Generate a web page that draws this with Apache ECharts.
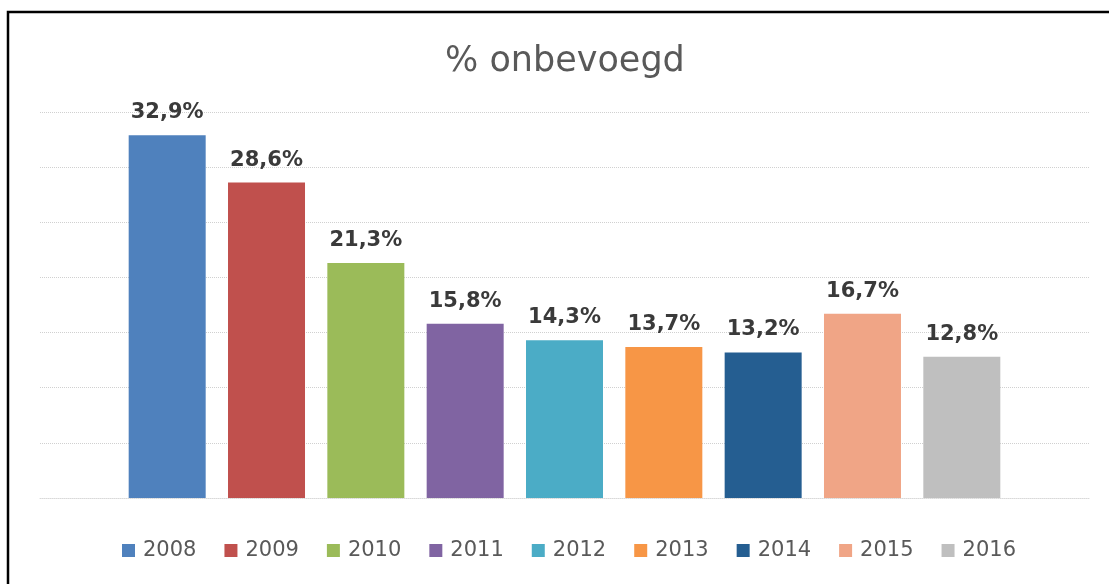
<!DOCTYPE html>
<html>
<head>
<meta charset="utf-8">
<script src="https://cdn.jsdelivr.net/npm/echarts@6/dist/echarts.min.js"></script>
<style>
  html, body { margin: 0; padding: 0; background: #fff; }
  #main { width: 1109px; height: 584px; }
</style>
</head>
<body>
<div id="main"></div>
<script>
var years = ['2008', '2009', '2010', '2011', '2012', '2013', '2014', '2015', '2016'];
var values = [32.9, 28.6, 21.3, 15.8, 14.3, 13.7, 13.2, 16.7, 12.8];
var colors = ['#4F81BD', '#C0504D', '#9BBB59', '#8064A2', '#4BACC6',
              '#F79646', '#255E91', '#F0A586', '#BFBFBF'];

var series = years.map(function (y, i) {
    return {
        name: y,
        type: 'bar',
        data: [values[i]],
        barWidth: 77,
        barGap: '29%',
        itemStyle: { color: colors[i] },
        label: {
            show: true,
            position: 'top',
            distance: 12,
            color: '#3a3a3a',
            fontFamily: 'DejaVu Sans',
            fontWeight: 'bold',
            fontSize: 21,
            formatter: function (p) {
                return p.value.toFixed(1).replace('.', ',') + '%';
            }
        }
    };
});

var option = {
    backgroundColor: '#fff',
    animation: false,
    color: colors,
    title: {
        text: '% onbevoegd',
        left: 440,
        top: 39,
        textStyle: {
            fontFamily: 'DejaVu Sans',
            fontWeight: 'normal',
            fontSize: 35,
            color: '#595959'
        }
    },
    graphic: [{
        type: 'polyline',
        shape: { points: [[8, 600], [8, 12], [1120, 12]] },
        style: { stroke: '#000', lineWidth: 2.5, fill: null }
    }],
    legend: {
        bottom: 18,
        left: 117,
        itemWidth: 13,
        itemHeight: 13,
        itemGap: 28,
        icon: 'rect',
        textStyle: {
            fontFamily: 'DejaVu Sans',
            fontSize: 21,
            color: '#595959',
            padding: [0, 0, 0, 3]
        }
    },
    grid: {
        left: 40,
        right: 20,
        top: 112,
        bottom: 86
    },
    xAxis: {
        type: 'category',
        data: [''],
        axisLine: { show: true, lineStyle: { color: '#D9D9D9', type: 'dotted' } },
        axisTick: { show: false },
        axisLabel: { show: false }
    },
    yAxis: {
        type: 'value',
        min: 0,
        max: 35,
        interval: 5,
        axisLine: { show: false },
        axisTick: { show: false },
        axisLabel: { show: false },
        splitLine: { lineStyle: { color: '#D0D0D0', type: 'dotted', width: 1 } }
    },
    series: series
};

var myChart = echarts.init(document.getElementById('main'));
myChart.setOption(option);
</script>
</body>
</html>
